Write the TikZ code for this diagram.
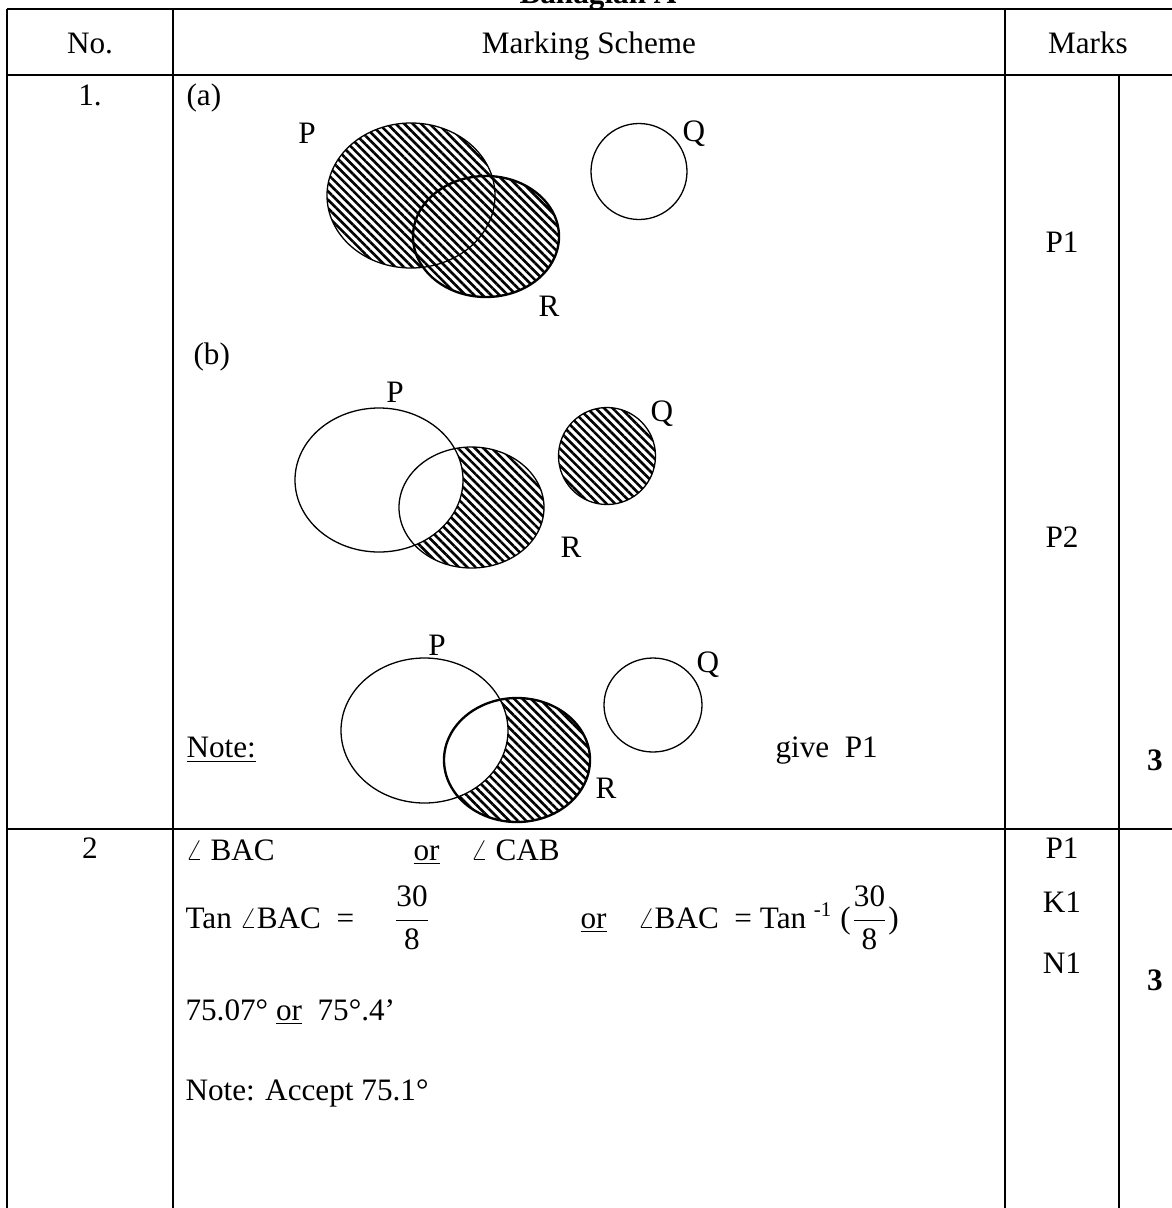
\documentclass[tikz,border=0pt]{standalone}
\usepackage{fontspec}
\setmainfont{Liberation Serif}
\usepackage{tikz}
\usetikzlibrary{patterns.meta}

\begin{document}
\begin{tikzpicture}[
  x=0.3846pt, y=-0.3846pt,
  every node/.style={font=\fontsize{12}{14}\selectfont, inner sep=0pt},
  rule/.style={line width=0.75pt},
  venn/.style={line width=0.5pt},
  boldvenn/.style={line width=0.9pt},
  hatch/.style={pattern={Lines[angle=-45, distance=2.3pt, line width=1pt]}},
  setname/.style={anchor=center},
  txt/.style={anchor=base west},
  score/.style={anchor=base},
]
\useasboundingbox (0,0) rectangle (1172,1208);

% Title (cut off at the top)
\node[score, font=\fontsize{12}{14}\selectfont\bfseries] (title) at (598,3) {Bahagian A};

% Table rules
\draw[rule] (7,9) -- (1172,9);
\draw[rule] (7,75) -- (1172,75);
\draw[rule] (7,829) -- (1172,829);
\draw[rule] (7,9) -- (7,1208);
\draw[rule] (173,9) -- (173,1208);
\draw[rule] (1005,9) -- (1005,1208);
\draw[rule] (1119,75) -- (1119,1208);

% Header
\node[score] (hno) at (90,53) {No.};
\node[score] (hscheme) at (589,53) {Marking Scheme};
\node[score] (hmarks) at (1088,53) {Marks};

% Question 1
\node[score] (q1) at (90,105) {1.};
\node[txt] (parta) at (186,105) {(a)};

% (a) P union R
\fill[hatch] (411,195.5) ellipse [x radius=84, y radius=72.5]
             (486,236.5) ellipse [x radius=73, y radius=60.5];
\draw[venn] (411,195.5) ellipse [x radius=84, y radius=72.5];
\draw[boldvenn] (486,236.5) ellipse [x radius=73, y radius=60.5];
\draw[venn] (639,171.5) circle [radius=48];
\node[setname] (pa) at (307,133) {P};
\node[setname] (qa) at (694,134) {Q};
\node[setname] (ra) at (549,306) {R};

% (b) Q union (R minus P)
\node[txt] (partb) at (193,364) {(b)};
\fill[hatch] (607,456) circle [radius=48.5];
\begin{scope}
  \clip (471.5,507.5) ellipse [x radius=72.5, y radius=60.5];
  \fill[hatch, even odd rule] (379,480) ellipse [x radius=84, y radius=72]
                              (280,380) rectangle (700,700);
\end{scope}
\draw[venn] (379,480) ellipse [x radius=84, y radius=72];
\draw[venn] (471.5,507.5) ellipse [x radius=72.5, y radius=60.5];
\draw[venn] (607,456) circle [radius=48.5];
\node[setname] (pb) at (395,392) {P};
\node[setname] (qb) at (662,414) {Q};
\node[setname] (rb) at (571,547) {R};

% Note: R minus P only
\node[txt] (note) at (186,757) {\underline{Note:}};
\begin{scope}
  \clip (517,760) ellipse [x radius=73, y radius=62];
  \fill[hatch, even odd rule] (424.5,730.5) ellipse [x radius=83.5, y radius=72.5]
                              (330,640) rectangle (700,840);
\end{scope}
\draw[venn] (424.5,730.5) ellipse [x radius=83.5, y radius=72.5];
\draw[boldvenn] (517,760) ellipse [x radius=73, y radius=62];
\draw[venn] (653,705) ellipse [x radius=49, y radius=47];
\node[setname] (pn) at (437,645) {P};
\node[setname] (qn) at (708,665) {Q};
\node[setname] (rn) at (606,788) {R};
\node[txt] (give) at (775,757) {give\ \ P1};

% Marks for question 1
\node[score] (m1a) at (1062,252) {P1};
\node[score] (m1b) at (1062,547) {P2};
\node[score, font=\fontsize{12}{14}\selectfont\bfseries] (t1) at (1155,770) {3};

% Question 2
\node[score] (q2) at (90,858) {2};
\node[txt] (l1a) at (185,860) {$\angle$ BAC};
\node[txt] (l1b) at (413,860) {\underline{or}};
\node[txt] (l1c) at (470,860) {$\angle$ CAB};

\node[txt] (l2a) at (185,928) {Tan $\angle$BAC \ =};
\node[score] (frac1) at (412,928) {$\displaystyle\frac{\mbox{30}}{\mbox{8}}$};
\node[txt] (l2b) at (580,928) {\underline{or}};
\node[txt] (l2c) at (637,928) {$\angle$BAC \ = Tan \textsuperscript{-1} ($\displaystyle\frac{\mbox{30}}{\mbox{8}}$)};

\node[txt] (l3) at (185,1020) {75.07° \underline{or} \ 75°.4’};
\node[txt] (l4) at (185,1100) {Note: Accept 75.1°};

% Marks for question 2
\node[score] (m2a) at (1062,858) {P1};
\node[score] (m2b) at (1062,912) {K1};
\node[score] (m2c) at (1062,973) {N1};
\node[score, font=\fontsize{12}{14}\selectfont\bfseries] (t2) at (1155,990) {3};

\end{tikzpicture}
\end{document}
